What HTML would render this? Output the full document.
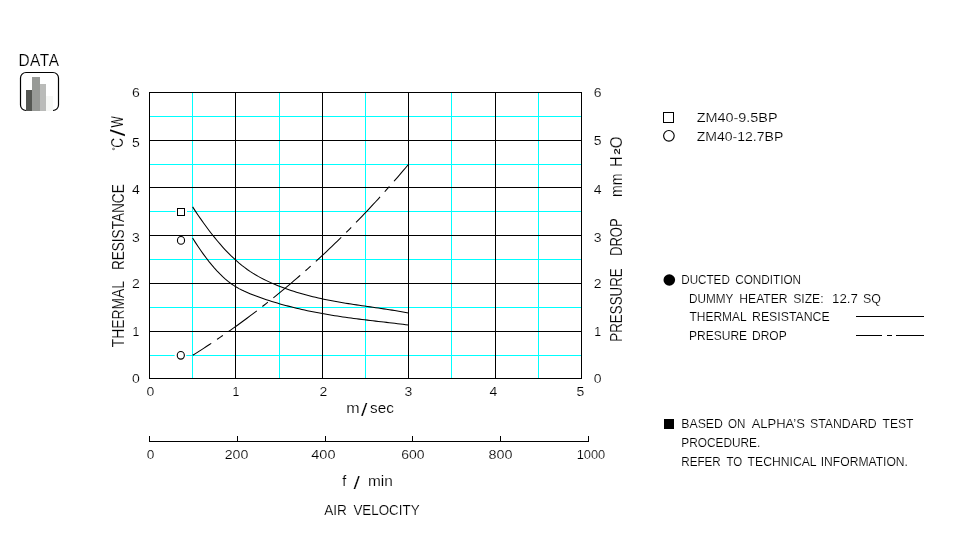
<!DOCTYPE html>
<html lang="en">
<head>
<meta charset="utf-8">
<title>DATA - Thermal resistance / pressure drop vs. air velocity</title>
<style>
html,body{margin:0;padding:0;background:#fff;}
body{width:970px;height:556px;overflow:hidden;font-family:"Liberation Sans", sans-serif;color:#000;}
svg text{font-family:"Liberation Sans", sans-serif;stroke:#fff;stroke-width:0.15px;paint-order:fill stroke;}
</style>
</head>
<body>
<svg width="970" height="556" viewBox="0 0 970 556" font-family='"Liberation Sans", sans-serif' fill="#000" style="display:block" role="img" aria-labelledby="ct cd">
<title id="ct">DATA: thermal resistance and pressure drop versus air velocity</title>
<desc id="cd">DATA. THERMAL RESISTANCE &#176;C/W. PRESSURE DROP mm H2O. m/sec. f / min. AIR VELOCITY. ZM40-9.5BP. ZM40-12.7BP. DUCTED CONDITION. DUMMY HEATER SIZE: 12.7 SQ. THERMAL RESISTANCE. PRESURE DROP. BASED ON ALPHA&#8217;S STANDARD TEST PROCEDURE. REFER TO TECHNICAL INFORMATION.</desc>
<g shape-rendering="crispEdges"><rect x="192" y="92" width="1" height="287" fill="#00ffff"/><rect x="279" y="92" width="1" height="287" fill="#00ffff"/><rect x="365" y="92" width="1" height="287" fill="#00ffff"/><rect x="451" y="92" width="1" height="287" fill="#00ffff"/><rect x="538" y="92" width="1" height="287" fill="#00ffff"/><rect x="149" y="116" width="433" height="1" fill="#00ffff"/><rect x="149" y="164" width="433" height="1" fill="#00ffff"/><rect x="149" y="211" width="433" height="1" fill="#00ffff"/><rect x="149" y="259" width="433" height="1" fill="#00ffff"/><rect x="149" y="307" width="433" height="1" fill="#00ffff"/><rect x="149" y="355" width="433" height="1" fill="#00ffff"/><rect x="149" y="92" width="1" height="287" fill="#000"/><rect x="235" y="92" width="1" height="287" fill="#000"/><rect x="322" y="92" width="1" height="287" fill="#000"/><rect x="408" y="92" width="1" height="287" fill="#000"/><rect x="495" y="92" width="1" height="287" fill="#000"/><rect x="581" y="92" width="1" height="287" fill="#000"/><rect x="149" y="92" width="433" height="1" fill="#000"/><rect x="149" y="140" width="433" height="1" fill="#000"/><rect x="149" y="187" width="433" height="1" fill="#000"/><rect x="149" y="235" width="433" height="1" fill="#000"/><rect x="149" y="283" width="433" height="1" fill="#000"/><rect x="149" y="331" width="433" height="1" fill="#000"/><rect x="149" y="378" width="433" height="1" fill="#000"/></g>
<path d="M192.65,206.90 L195.38,211.09 L198.11,215.17 L200.84,219.15 L203.57,223.03 L206.31,226.79 L209.04,230.45 L211.77,233.99 L214.50,237.43 L217.23,240.75 L219.96,243.96 L222.69,247.05 L225.42,250.02 L228.15,252.87 L230.88,255.61 L233.62,258.22 L236.35,260.71 L239.08,263.07 L241.81,265.32 L244.54,267.44 L247.27,269.45 L250.00,271.35 L252.73,273.14 L255.46,274.81 L258.19,276.39 L260.93,277.88 L263.66,279.29 L266.39,280.62 L269.12,281.89 L271.85,283.11 L274.58,284.28 L277.31,285.40 L280.04,286.49 L282.77,287.53 L285.50,288.54 L288.24,289.50 L290.97,290.43 L293.70,291.33 L296.43,292.19 L299.16,293.01 L301.89,293.81 L304.62,294.57 L307.35,295.31 L310.08,296.02 L312.81,296.70 L315.55,297.35 L318.28,297.98 L321.01,298.59 L323.74,299.17 L326.47,299.73 L329.20,300.28 L331.93,300.80 L334.66,301.31 L337.39,301.80 L340.12,302.28 L342.86,302.74 L345.59,303.19 L348.32,303.63 L351.05,304.06 L353.78,304.48 L356.51,304.89 L359.24,305.30 L361.97,305.70 L364.70,306.10 L367.43,306.49 L370.17,306.89 L372.90,307.28 L375.63,307.67 L378.36,308.07 L381.09,308.47 L383.82,308.87 L386.55,309.28 L389.28,309.69 L392.01,310.12 L394.74,310.55 L397.48,311.00 L400.21,311.45 L402.94,311.92 L405.67,312.40 L408.40,312.90" fill="none" stroke="#000" stroke-width="1.05"/>
<path d="M192.60,238.00 L195.33,242.35 L198.06,246.52 L200.79,250.53 L203.53,254.38 L206.26,258.05 L208.99,261.57 L211.72,264.91 L214.45,268.09 L217.18,271.11 L219.92,273.97 L222.65,276.64 L225.38,279.13 L228.11,281.42 L230.84,283.50 L233.57,285.38 L236.31,287.07 L239.04,288.60 L241.77,289.99 L244.50,291.29 L247.23,292.50 L249.96,293.65 L252.70,294.77 L255.43,295.83 L258.16,296.86 L260.89,297.85 L263.62,298.80 L266.35,299.72 L269.09,300.61 L271.82,301.47 L274.55,302.30 L277.28,303.11 L280.01,303.89 L282.74,304.65 L285.48,305.40 L288.21,306.12 L290.94,306.82 L293.67,307.51 L296.40,308.17 L299.13,308.82 L301.87,309.45 L304.60,310.06 L307.33,310.65 L310.06,311.22 L312.79,311.78 L315.52,312.32 L318.26,312.85 L320.99,313.35 L323.72,313.85 L326.45,314.32 L329.18,314.79 L331.91,315.24 L334.65,315.67 L337.38,316.10 L340.11,316.51 L342.84,316.91 L345.57,317.30 L348.30,317.68 L351.04,318.05 L353.77,318.42 L356.50,318.77 L359.23,319.12 L361.96,319.46 L364.69,319.80 L367.43,320.13 L370.16,320.46 L372.89,320.78 L375.62,321.11 L378.35,321.43 L381.08,321.74 L383.82,322.06 L386.55,322.38 L389.28,322.70 L392.01,323.02 L394.74,323.34 L397.47,323.66 L400.21,323.99 L402.94,324.32 L405.67,324.66 L408.40,325.00" fill="none" stroke="#000" stroke-width="1.05"/>
<path d="M192.70,355.30 L195.43,353.58 L198.16,351.84 L200.89,350.09 L203.62,348.33 L206.35,346.55 L209.08,344.76 L211.81,342.95 L214.54,341.12 L217.27,339.28 L220.00,337.42 L222.73,335.55 L225.46,333.66 L228.19,331.76 L230.93,329.84 L233.66,327.90 L236.39,325.95 L239.12,323.98 L241.85,322.00 L244.58,320.00 L247.31,317.98 L250.04,315.94 L252.77,313.89 L255.50,311.82 L258.23,309.73 L260.96,307.62 L263.69,305.50 L266.42,303.36 L269.15,301.20 L271.88,299.03 L274.61,296.83 L277.34,294.62 L280.07,292.39 L282.80,290.14 L285.53,287.87 L288.26,285.58 L290.99,283.28 L293.72,280.95 L296.45,278.61 L299.18,276.25 L301.92,273.87 L304.65,271.46 L307.38,269.04 L310.11,266.60 L312.84,264.14 L315.57,261.66 L318.30,259.16 L321.03,256.64 L323.76,254.09 L326.49,251.53 L329.22,248.95 L331.95,246.34 L334.68,243.72 L337.41,241.07 L340.14,238.41 L342.87,235.72 L345.60,233.01 L348.33,230.28 L351.06,227.53 L353.79,224.75 L356.52,221.96 L359.25,219.14 L361.98,216.30 L364.71,213.43 L367.44,210.55 L370.17,207.64 L372.91,204.71 L375.64,201.76 L378.37,198.78 L381.10,195.78 L383.83,192.76 L386.56,189.72 L389.29,186.65 L392.02,183.56 L394.75,180.44 L397.48,177.30 L400.21,174.14 L402.94,170.95 L405.67,167.74 L408.40,164.50" fill="none" stroke="#000" stroke-width="1.05" stroke-dasharray="35.0 7.0 7.0 7.0" stroke-dashoffset="12.92"/>
<rect x="175.5" y="208" width="11.5" height="8" fill="#fff"/>
<rect x="177.5" y="208.5" width="7" height="7" fill="#fff" stroke="#000" stroke-width="1"/>
<ellipse cx="181" cy="240.4" rx="3.55" ry="3.85" fill="#fff" stroke="#000" stroke-width="1.1"/>
<rect x="174.6" y="352" width="11.7" height="8" fill="#fff"/>
<ellipse cx="180.8" cy="355.3" rx="3.55" ry="3.85" fill="#fff" stroke="#000" stroke-width="1.1"/>
<g shape-rendering="crispEdges"><rect x="149" y="441" width="440" height="1" fill="#000"/><rect x="149" y="436" width="1" height="5" fill="#000"/><rect x="237" y="436" width="1" height="5" fill="#000"/><rect x="325" y="436" width="1" height="5" fill="#000"/><rect x="412" y="436" width="1" height="5" fill="#000"/><rect x="500" y="436" width="1" height="5" fill="#000"/><rect x="588" y="436" width="1" height="5" fill="#000"/></g>
<text y="65.8" font-size="16" letter-spacing="0.6"><tspan x="18.4" y="65.8" textLength="41.1" lengthAdjust="spacingAndGlyphs">DATA</tspan></text>
<rect x="20.5" y="72.5" width="38" height="38" rx="5.5" ry="5.5" fill="#fff" stroke="#000" stroke-width="1.2"/>
<g shape-rendering="crispEdges"><rect x="45" y="96" width="8" height="15" fill="#f6f7f5"/><rect x="40" y="84" width="6" height="27" fill="#babbb9"/><rect x="32" y="77" width="8" height="34" fill="#989a97"/><rect x="26" y="90" width="6" height="21" fill="#555753"/></g>
<text y="97.2" font-size="12.3"><tspan x="131.9" y="97.2" textLength="7.8" lengthAdjust="spacingAndGlyphs">6</tspan></text>
<text y="147.2" font-size="12.3"><tspan x="131.9" y="147.2" textLength="7.8" lengthAdjust="spacingAndGlyphs">5</tspan></text>
<text y="193.8" font-size="12.3"><tspan x="131.9" y="193.8" textLength="7.8" lengthAdjust="spacingAndGlyphs">4</tspan></text>
<text y="241.6" font-size="12.3"><tspan x="131.9" y="241.6" textLength="7.8" lengthAdjust="spacingAndGlyphs">3</tspan></text>
<text y="288.2" font-size="12.3"><tspan x="131.9" y="288.2" textLength="7.8" lengthAdjust="spacingAndGlyphs">2</tspan></text>
<text x="135.8" y="335.6" font-size="12.3" text-anchor="middle">1</text>
<text y="383.2" font-size="12.3"><tspan x="131.9" y="383.2" textLength="7.8" lengthAdjust="spacingAndGlyphs">0</tspan></text>
<text y="97.2" font-size="12.3"><tspan x="593.7" y="97.2" textLength="7.8" lengthAdjust="spacingAndGlyphs">6</tspan></text>
<text y="145.2" font-size="12.3"><tspan x="593.7" y="145.2" textLength="7.8" lengthAdjust="spacingAndGlyphs">5</tspan></text>
<text y="193.7" font-size="12.3"><tspan x="593.7" y="193.7" textLength="7.8" lengthAdjust="spacingAndGlyphs">4</tspan></text>
<text y="241.8" font-size="12.3"><tspan x="593.7" y="241.8" textLength="7.8" lengthAdjust="spacingAndGlyphs">3</tspan></text>
<text y="288.2" font-size="12.3"><tspan x="593.7" y="288.2" textLength="7.8" lengthAdjust="spacingAndGlyphs">2</tspan></text>
<text x="597.6" y="335.5" font-size="12.3" text-anchor="middle">1</text>
<text y="382.8" font-size="12.3"><tspan x="593.7" y="382.8" textLength="7.8" lengthAdjust="spacingAndGlyphs">0</tspan></text>
<text y="395.9" font-size="12.3"><tspan x="146.5" y="395.9" textLength="7.8" lengthAdjust="spacingAndGlyphs">0</tspan></text>
<text x="236.0" y="395.9" font-size="12.3" text-anchor="middle">1</text>
<text y="395.9" font-size="12.3"><tspan x="319.6" y="395.9" textLength="7.8" lengthAdjust="spacingAndGlyphs">2</tspan></text>
<text y="395.9" font-size="12.3"><tspan x="404.4" y="395.9" textLength="7.8" lengthAdjust="spacingAndGlyphs">3</tspan></text>
<text y="395.9" font-size="12.3"><tspan x="489.6" y="395.9" textLength="7.8" lengthAdjust="spacingAndGlyphs">4</tspan></text>
<text y="395.9" font-size="12.3"><tspan x="576.6" y="395.9" textLength="7.8" lengthAdjust="spacingAndGlyphs">5</tspan></text>
<text y="458.5" font-size="12.3"><tspan x="146.7" y="458.5" textLength="7.6" lengthAdjust="spacingAndGlyphs">0</tspan></text>
<text y="458.5" font-size="12.3"><tspan x="224.7" y="458.5" textLength="23.6" lengthAdjust="spacingAndGlyphs">200</tspan></text>
<text y="458.5" font-size="12.3"><tspan x="311.3" y="458.5" textLength="24.2" lengthAdjust="spacingAndGlyphs">400</tspan></text>
<text y="458.5" font-size="12.3"><tspan x="401.2" y="458.5" textLength="23.3" lengthAdjust="spacingAndGlyphs">600</tspan></text>
<text y="458.5" font-size="12.3"><tspan x="488.6" y="458.5" textLength="24.0" lengthAdjust="spacingAndGlyphs">800</tspan></text>
<text y="458.5" font-size="12.3"><tspan x="576.7" y="458.5" textLength="28.5" lengthAdjust="spacingAndGlyphs">1000</tspan></text>
<text y="413.2" font-size="14.5"><tspan x="346.2" y="413.2" textLength="13.4" lengthAdjust="spacingAndGlyphs">m</tspan><tspan x="361.0" y="415.8" font-size="18.9" textLength="6.4" lengthAdjust="spacingAndGlyphs">/</tspan><tspan x="370.0" y="413.2" textLength="23.8" lengthAdjust="spacingAndGlyphs">sec</tspan></text>
<text y="486" font-size="14.5"><tspan x="342.2">f</tspan> <tspan x="353.6" y="488.6" font-size="18.9" textLength="6.4" lengthAdjust="spacingAndGlyphs">/</tspan> <tspan x="368.0" y="486" textLength="24.9" lengthAdjust="spacingAndGlyphs">min</tspan></text>
<text y="515.2" font-size="14.5"><tspan x="324.3" y="515.2" textLength="22.6" lengthAdjust="spacingAndGlyphs">AIR</tspan> <tspan x="353.4" y="515.2" textLength="66.2" lengthAdjust="spacingAndGlyphs">VELOCITY</tspan></text>
<text transform="translate(124.4 0) rotate(-90)" y="0" font-size="15.6"><tspan x="-347.3" textLength="65.8" lengthAdjust="spacingAndGlyphs">THERMAL</tspan> <tspan x="-270.1" textLength="85.8" lengthAdjust="spacingAndGlyphs">RESISTANCE</tspan></text>
<text transform="translate(122.5 0) rotate(-90)" font-size="15.6"><tspan x="-150.4" y="-4.6" font-size="8" font-weight="bold">&#176;</tspan><tspan x="-147.8" y="0" textLength="9.8" lengthAdjust="spacingAndGlyphs">C</tspan><tspan x="-136.2" y="2.6" font-size="20" textLength="7" lengthAdjust="spacingAndGlyphs">/</tspan><tspan x="-127.5" y="0" textLength="11.4" lengthAdjust="spacingAndGlyphs">W</tspan></text>
<text transform="translate(622.0 0) rotate(-90)" y="0" font-size="15.6"><tspan x="-341.7" textLength="73.4" lengthAdjust="spacingAndGlyphs">PRESSURE</tspan> <tspan x="-256.0" textLength="37.7" lengthAdjust="spacingAndGlyphs">DROP</tspan></text>
<text transform="translate(621.6 0) rotate(-90)" y="0" font-size="15.6"><tspan x="-197.0" textLength="23.6" lengthAdjust="spacingAndGlyphs">mm</tspan> <tspan x="-167.0" textLength="10.5" lengthAdjust="spacingAndGlyphs">H</tspan><tspan x="-154.8" dy="-2" font-size="9" font-weight="bold" textLength="6.6" lengthAdjust="spacingAndGlyphs">2</tspan><tspan x="-148.2" dy="2" textLength="11.8" lengthAdjust="spacingAndGlyphs">O</tspan></text>
<rect x="663.5" y="112.5" width="10" height="10" fill="#fff" stroke="#000" stroke-width="1"/>
<circle cx="668.9" cy="135.8" r="5.3" fill="#fff" stroke="#000" stroke-width="1.15"/>
<text y="122.0" font-size="12.3"><tspan x="696.7" y="122.0" textLength="80.9" lengthAdjust="spacingAndGlyphs">ZM40-9.5BP</tspan></text>
<text y="140.5" font-size="12.3"><tspan x="696.7" y="140.5" textLength="86.6" lengthAdjust="spacingAndGlyphs">ZM40-12.7BP</tspan></text>
<circle cx="669.3" cy="280" r="5.8" fill="#000"/>
<text y="284.2" font-size="13.3"><tspan x="681.3" y="284.2" textLength="48.5" lengthAdjust="spacingAndGlyphs">DUCTED</tspan> <tspan x="735.2" y="284.2" textLength="65.9" lengthAdjust="spacingAndGlyphs">CONDITION</tspan></text>
<text y="302.6" font-size="13.3"><tspan x="689.0" y="302.6" textLength="44.1" lengthAdjust="spacingAndGlyphs">DUMMY</tspan> <tspan x="739.3" y="302.6" textLength="48.3" lengthAdjust="spacingAndGlyphs">HEATER</tspan> <tspan x="793.2" y="302.6" textLength="30.4" lengthAdjust="spacingAndGlyphs">SIZE:</tspan> <tspan x="832.0" y="302.6" textLength="25.9" lengthAdjust="spacingAndGlyphs">12.7</tspan> <tspan x="863.1" y="302.6" textLength="17.9" lengthAdjust="spacingAndGlyphs">SQ</tspan></text>
<text y="321.0" font-size="13.3"><tspan x="689.5" y="321.0" textLength="56.8" lengthAdjust="spacingAndGlyphs">THERMAL</tspan> <tspan x="752.0" y="321.0" textLength="77.7" lengthAdjust="spacingAndGlyphs">RESISTANCE</tspan></text>
<text y="339.8" font-size="13.3"><tspan x="689.0" y="339.8" textLength="58.1" lengthAdjust="spacingAndGlyphs">PRESURE</tspan> <tspan x="752.0" y="339.8" textLength="34.7" lengthAdjust="spacingAndGlyphs">DROP</tspan></text>
<g shape-rendering="crispEdges"><rect x="856" y="316" width="68" height="1" fill="#000"/><rect x="856" y="335" width="26" height="1" fill="#000"/><rect x="887" y="335" width="5" height="1" fill="#000"/><rect x="896" y="335" width="28" height="1" fill="#000"/></g>
<rect x="664" y="419" width="10" height="10" fill="#000" shape-rendering="crispEdges"/>
<text y="428.3" font-size="13.3"><tspan x="681.3" y="428.3" textLength="41.6" lengthAdjust="spacingAndGlyphs">BASED</tspan> <tspan x="728.1" y="428.3" textLength="17.4" lengthAdjust="spacingAndGlyphs">ON</tspan> <tspan x="751.7" y="428.3" textLength="53.2" lengthAdjust="spacingAndGlyphs">ALPHA&#8217;S</tspan> <tspan x="810.0" y="428.3" textLength="66.7" lengthAdjust="spacingAndGlyphs">STANDARD</tspan> <tspan x="882.6" y="428.3" textLength="30.9" lengthAdjust="spacingAndGlyphs">TEST</tspan></text>
<text y="447.0" font-size="13.3"><tspan x="681.3" y="447.0" textLength="79.0" lengthAdjust="spacingAndGlyphs">PROCEDURE.</tspan></text>
<text y="465.8" font-size="13.3"><tspan x="681.3" y="465.8" textLength="39.5" lengthAdjust="spacingAndGlyphs">REFER</tspan> <tspan x="726.5" y="465.8" textLength="15.7" lengthAdjust="spacingAndGlyphs">TO</tspan> <tspan x="747.6" y="465.8" textLength="68.6" lengthAdjust="spacingAndGlyphs">TECHNICAL</tspan> <tspan x="820.7" y="465.8" textLength="87.3" lengthAdjust="spacingAndGlyphs">INFORMATION.</tspan></text>
</svg>
</body>
</html>
